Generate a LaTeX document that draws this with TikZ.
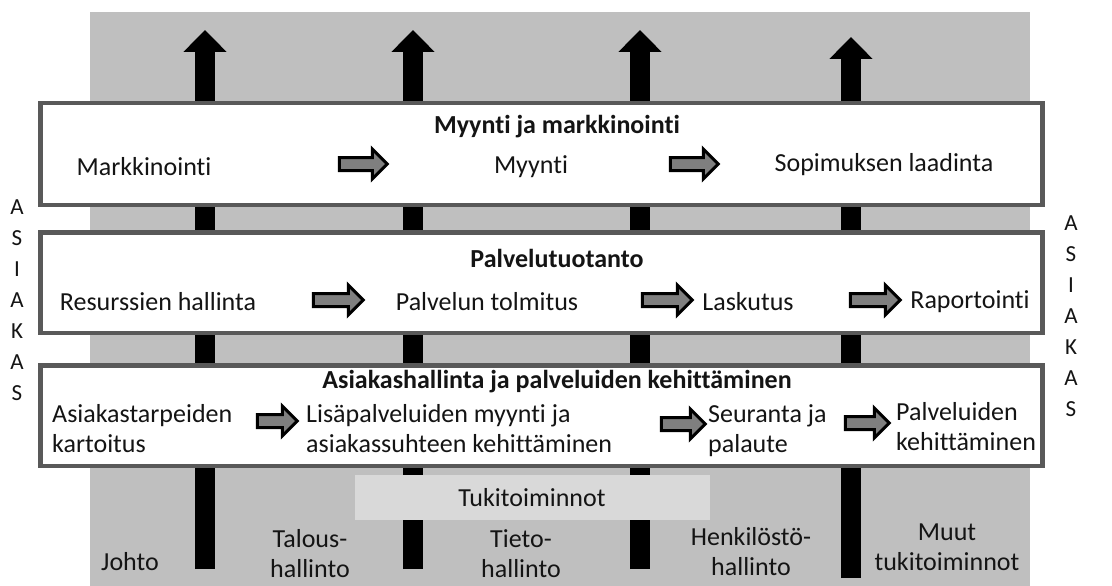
\documentclass[tikz,border=0pt]{standalone}
\usepackage{fontspec}
\setmainfont{Carlito}[Ligatures={NoCommon,NoRequired}]
\usetikzlibrary{arrows.meta, shapes.arrows}

\definecolor{backgrey}{HTML}{BFBFBF}
\definecolor{framegrey}{HTML}{595959}
\definecolor{supportgrey}{HTML}{D9D9D9}
\definecolor{flowgrey}{HTML}{7F7F7F}
\definecolor{inkblack}{HTML}{141414}

\begin{document}
\begin{tikzpicture}[x=1pt, y=-1pt, font=\fontsize{26}{30}\selectfont, text=inkblack,
    band/.style={draw=framegrey, line width=4.5pt, fill=white, minimum width=1002pt},
    head/.style={font=\fontsize{26}{30}\selectfont\bfseries},
    flow/.style={single arrow, draw=black, fill=flowgrey, line width=3pt, inner xsep=0pt,
                 inner ysep=5pt, single arrow head extend=8.5pt, minimum height=#1},
    pillar/.style={line width=20pt, -{Triangle[length=22pt, width=42pt]}},
    side/.style={align=center, font=\fontsize{23}{31}\selectfont}]

    \useasboundingbox (0,0) rectangle (1112,586);
    \fill[backgrey] (90,12) rectangle (1030,586);

    \coordinate (p1s) at (205,569); \coordinate (p1e) at (205,30);
    \coordinate (p2s) at (413,569); \coordinate (p2e) at (413,30);
    \coordinate (p3s) at (640,569); \coordinate (p3e) at (640,30);
    \coordinate (p4s) at (851,578); \coordinate (p4e) at (851,37);
    \foreach \i in {1,...,4}
        \draw[pillar] (p\i s) -- (p\i e);

    \node[band, minimum height=101.5pt] (sales) at (541.5,154) {};
    \node[band, minimum height=100.5pt] (prod) at (541.5,282.5) {};
    \node[band, minimum height=100.5pt] (care) at (541.5,415.5) {};

    \node[head] (salesT) at (557,127) {Myynti ja markkinointi};
    \node (mark) at (144,167) {Markkinointi};
    \node (sell) at (531,167) {Myynti};
    \node (deal) at (884,165) {Sopimuksen laadinta};
    \node[flow=48pt] (f1) at (360,164) {};
    \node[flow=48pt] (f2) at (691,164) {};

    \node[head] (prodT) at (557,258) {Palvelutuotanto};
    \node (res) at (158,302) {Resurssien hallinta};
    \node (deliv) at (487,302) {Palvelun tolmitus};
    \node (bill) at (748,302) {Laskutus};
    \node (rep) at (970,302) {Raportointi};
    \node[flow=50pt] (f3) at (335,300) {};
    \node[flow=50pt] (f4) at (664,300) {};
    \node[flow=50pt] (f5) at (872,300) {};

    \node[head] (careT) at (557,382) {Asiakashallinta ja palveluiden kehittäminen};
    \node[anchor=west, align=left, inner sep=0pt] (needs) at (52,429) {Asiakastarpeiden\\kartoitus};
    \node[anchor=west, align=left, inner sep=0pt] (extra) at (306,429) {Lisäpalveluiden myynti ja\\asiakassuhteen kehittäminen};
    \node[anchor=west, align=left, inner sep=0pt] (follow) at (708,431) {Seuranta ja\\palaute};
    \node[anchor=west, align=left, inner sep=0pt] (devel) at (896,427) {Palveluiden\\kehittäminen};
    \node[flow=40pt] (f6) at (274,421) {};
    \node[flow=44pt] (f7) at (680,424) {};
    \node[flow=44pt] (f8) at (864,423) {};

    \node[fill=supportgrey, minimum width=355pt, minimum height=45pt] (support) at (532,497.5) {Tukitoiminnot};

    \node (lead) at (130,562) {Johto};
    \node[align=center] (fin) at (310,554) {Talous-\\hallinto};
    \node[align=center] (it) at (521,554) {Tieto-\\hallinto};
    \node[align=center] (hr) at (751,552) {Henkilöstö-\\hallinto};
    \node[align=center] (other) at (947,547) {Muut\\tukitoiminnot};

    \node[side] (custL) at (17,300) {A\\S\\I\\A\\K\\A\\S};
    \node[side] (custR) at (1071,316) {A\\S\\I\\A\\K\\A\\S};
\end{tikzpicture}
\end{document}
